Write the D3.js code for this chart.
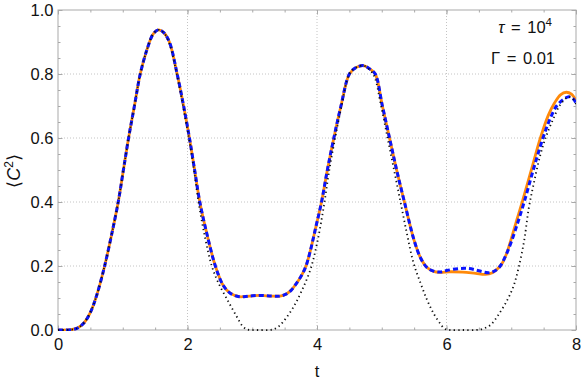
<!DOCTYPE html>
<html><head><meta charset="utf-8">
<script src="https://cdn.jsdelivr.net/npm/d3@7"></script>
<style>
html,body{margin:0;padding:0;background:#fff;}
svg{display:block;font-family:"Liberation Sans",Arial,sans-serif;}
</style></head>
<body><svg id="chart" width="581" height="381"></svg>
<script>
// ---- data ----
const orangeT = [0,0.2,0.3,0.4,0.5,0.6,0.72,0.83,0.93,1.01,1.09,1.18,1.27,1.38,1.47,1.55,1.63,1.72,1.84,1.94,2.03,2.11,2.19,2.3,2.43,2.55,2.66,2.8,2.95,3.12,3.3,3.43,3.52,3.6,3.68,3.76,3.83,3.9,3.98,4.07,4.16,4.26,4.37,4.5,4.6,4.72,4.82,4.9,5.01,5.12,5.23,5.35,5.5,5.6,5.7,5.8,5.9,6.05,6.25,6.45,6.6,6.7,6.78,6.85,6.93,7.0,7.08,7.17,7.31,7.45,7.57,7.67,7.76,7.85,7.93,8.0];
const orangeV = [0,0.001,0.006,0.022,0.055,0.11,0.2,0.3,0.4,0.5,0.6,0.7,0.8,0.88,0.925,0.938,0.93,0.9,0.8,0.7,0.6,0.5,0.4,0.3,0.2,0.14,0.115,0.104,0.106,0.108,0.106,0.106,0.112,0.124,0.145,0.17,0.2,0.25,0.32,0.4,0.5,0.6,0.7,0.8,0.82,0.826,0.815,0.8,0.7,0.6,0.5,0.4,0.28,0.225,0.195,0.183,0.18,0.182,0.181,0.177,0.174,0.178,0.19,0.205,0.24,0.285,0.34,0.4,0.5,0.6,0.67,0.71,0.735,0.743,0.737,0.717];

const blueT = [0,0.2,0.3,0.4,0.5,0.6,0.72,0.83,0.93,1.01,1.09,1.18,1.27,1.38,1.47,1.55,1.63,1.72,1.84,1.94,2.03,2.11,2.19,2.3,2.43,2.55,2.66,2.8,2.95,3.12,3.3,3.43,3.52,3.6,3.68,3.76,3.83,3.9,3.98,4.07,4.16,4.26,4.37,4.5,4.6,4.72,4.82,4.9,5.01,5.12,5.23,5.35,5.5,5.6,5.7,5.8,5.9,6.0,6.2,6.35,6.5,6.65,6.75,6.83,6.92,7.0,7.1,7.2,7.34,7.49,7.6,7.7,7.8,7.89,7.95,8.0];
const blueV = [0,0.001,0.006,0.022,0.055,0.11,0.2,0.3,0.4,0.5,0.6,0.7,0.8,0.88,0.925,0.938,0.93,0.9,0.8,0.7,0.6,0.5,0.4,0.3,0.2,0.14,0.115,0.104,0.106,0.108,0.106,0.106,0.112,0.124,0.145,0.17,0.2,0.25,0.32,0.4,0.5,0.6,0.7,0.8,0.82,0.826,0.815,0.8,0.7,0.6,0.5,0.4,0.28,0.225,0.195,0.184,0.181,0.186,0.192,0.192,0.185,0.179,0.185,0.2,0.235,0.275,0.335,0.4,0.5,0.6,0.66,0.7,0.72,0.729,0.724,0.71];

const blackT = [0,0.2,0.3,0.4,0.5,0.6,0.72,0.83,0.93,1.01,1.09,1.18,1.27,1.38,1.47,1.55,1.63,1.72,1.84,1.94,2.03,2.1,2.17,2.27,2.375,2.48,2.63,2.76,2.85,2.92,3.0,3.12,3.25,3.33,3.4,3.48,3.64,3.77,3.9,4.0,4.1,4.19,4.28,4.38,4.5,4.6,4.72,4.82,4.89,4.99,5.09,5.19,5.29,5.39,5.49,5.6,5.7,5.8,5.9,5.97,6.05,6.25,6.45,6.55,6.68,6.8,6.94,7.04,7.12,7.2,7.27,7.35,7.44,7.53,7.65,7.76,7.88,7.95,8.0];
const blackV = [0,0.001,0.006,0.022,0.055,0.11,0.2,0.3,0.4,0.5,0.6,0.7,0.8,0.88,0.925,0.938,0.93,0.895,0.795,0.69,0.59,0.5,0.4,0.29,0.2,0.146,0.089,0.042,0.012,0.002,0,0,0,0.002,0.01,0.026,0.073,0.125,0.19,0.27,0.38,0.5,0.6,0.7,0.8,0.82,0.826,0.812,0.79,0.7,0.6,0.5,0.4,0.3,0.21,0.146,0.094,0.052,0.021,0.004,0,0,0,0.003,0.016,0.047,0.094,0.14,0.2,0.28,0.38,0.46,0.54,0.6,0.66,0.705,0.728,0.723,0.706];

const xMajor = [0,2,4,6,8];
const yMajor = [0,0.2,0.4,0.6,0.8,1.0];
const xGrid = [2,4,6];
const yGrid = [0.2,0.4,0.6,0.8];
const xMinor = d3.range(0,8.001,0.5);
const yMinor = d3.range(0,1.001,0.05);

// ---- layout ----
const svg = d3.select("#chart");
const L=58, R=576, T=10, B=330;
const x = d3.scaleLinear().domain([0,8]).range([L,R]);
const y = d3.scaleLinear().domain([0,1]).range([B,T]);

const frameColor="#a9a9a9";
const FS = "16.5px";

// grid
const g = svg.append("g");
g.selectAll(".gx").data(xGrid).join("line")
  .attr("x1",d=>x(d)).attr("x2",d=>x(d)).attr("y1",T).attr("y2",B)
  .attr("stroke","#c4c4c4").attr("stroke-width",1).attr("stroke-dasharray","1,2");
g.selectAll(".gy").data(yGrid).join("line")
  .attr("y1",d=>y(d)).attr("y2",d=>y(d)).attr("x1",L).attr("x2",R)
  .attr("stroke","#c4c4c4").attr("stroke-width",1).attr("stroke-dasharray","1,2");

// axes
function styleAxis(sel){
  sel.select(".domain").remove();
  sel.selectAll(".tick line").attr("stroke",frameColor);
  sel.selectAll(".tick text").attr("fill","#111").style("font-size",FS).style("font-family","'Liberation Sans',Arial,sans-serif");
}
const fmt = d3.format(".1f");
svg.append("g").attr("transform",`translate(0,${B})`)
  .call(d3.axisBottom(x).tickValues(xMinor).tickSize(-2.5).tickFormat("")).call(styleAxis);
svg.append("g").attr("transform",`translate(0,${B})`)
  .call(d3.axisBottom(x).tickValues(xMajor).tickSize(-4.5).tickPadding(8.5).tickFormat(d3.format("d"))).call(styleAxis);
svg.append("g").attr("transform",`translate(0,${T})`)
  .call(d3.axisTop(x).tickValues(xMinor).tickSize(-2.5).tickFormat("")).call(styleAxis);
svg.append("g").attr("transform",`translate(0,${T})`)
  .call(d3.axisTop(x).tickValues(xMajor).tickSize(-4.5).tickFormat("")).call(styleAxis);
svg.append("g").attr("transform",`translate(${L},0)`)
  .call(d3.axisLeft(y).tickValues(yMinor).tickSize(-2.5).tickFormat("")).call(styleAxis);
svg.append("g").attr("transform",`translate(${L},0)`)
  .call(d3.axisLeft(y).tickValues(yMajor).tickSize(-4.5).tickPadding(4.5).tickFormat(fmt)).call(styleAxis);
svg.append("g").attr("transform",`translate(${R},0)`)
  .call(d3.axisRight(y).tickValues(yMinor).tickSize(-2.5).tickFormat("")).call(styleAxis);
svg.append("g").attr("transform",`translate(${R},0)`)
  .call(d3.axisRight(y).tickValues(yMajor).tickSize(-4.5).tickFormat("")).call(styleAxis);

// frame
svg.append("rect").attr("x",L).attr("y",T).attr("width",R-L).attr("height",B-T)
  .attr("fill","none").attr("stroke",frameColor).attr("stroke-width",1);

// lines
const line = d3.line().x(d=>x(d[0])).y(d=>y(Math.max(0,d[1]))).curve(d3.curveCatmullRom.alpha(0.5));
svg.append("clipPath").attr("id","clip").append("rect")
  .attr("x",L).attr("y",T-5).attr("width",R-L).attr("height",B-T+6);
const lines = svg.append("g").attr("clip-path","url(#clip)");
lines.append("path").attr("d",line(d3.zip(orangeT,orangeV)))
  .attr("fill","none").attr("stroke","#ff8a0a").attr("stroke-width",2.8);
lines.append("path").attr("d",line(d3.zip(blueT,blueV)))
  .attr("fill","none").attr("stroke","#0a14ff").attr("stroke-width",3).attr("stroke-dasharray","5,3");
lines.append("path").attr("d",line(d3.zip(blackT,blackV)))
  .attr("fill","none").attr("stroke","#111").attr("stroke-width",1.8).attr("stroke-dasharray","1.3,3.2");

// axis titles
svg.append("text").attr("x",x(4)).attr("y",376.5).attr("text-anchor","middle")
  .style("font-size",FS).attr("fill","#111").text("t");
const yl = svg.append("text").attr("transform","translate(20,171) rotate(-90)")
  .attr("text-anchor","middle").style("font-size","18px").attr("fill","#111");
yl.append("tspan").text("⟨");
yl.append("tspan").style("font-style","italic").text("C");
yl.append("tspan").attr("dy","-7").style("font-size","12px").text("2");
yl.append("tspan").attr("dy","7").text("⟩");

// annotations
const a1 = svg.append("text").attr("x",552).attr("y",33.3).attr("text-anchor","end")
  .style("font-size",FS).style("word-spacing","2px").attr("fill","#111");
a1.append("tspan").style("font-style","italic").text("τ");
a1.append("tspan").text(" = 10");
a1.append("tspan").attr("dy","-7").style("font-size","11.5px").text("4");
svg.append("text").attr("x",555).attr("y",64.3).attr("text-anchor","end")
  .style("font-size",FS).style("word-spacing","2px").attr("fill","#111").text("Γ = 0.01");
</script></body></html>
